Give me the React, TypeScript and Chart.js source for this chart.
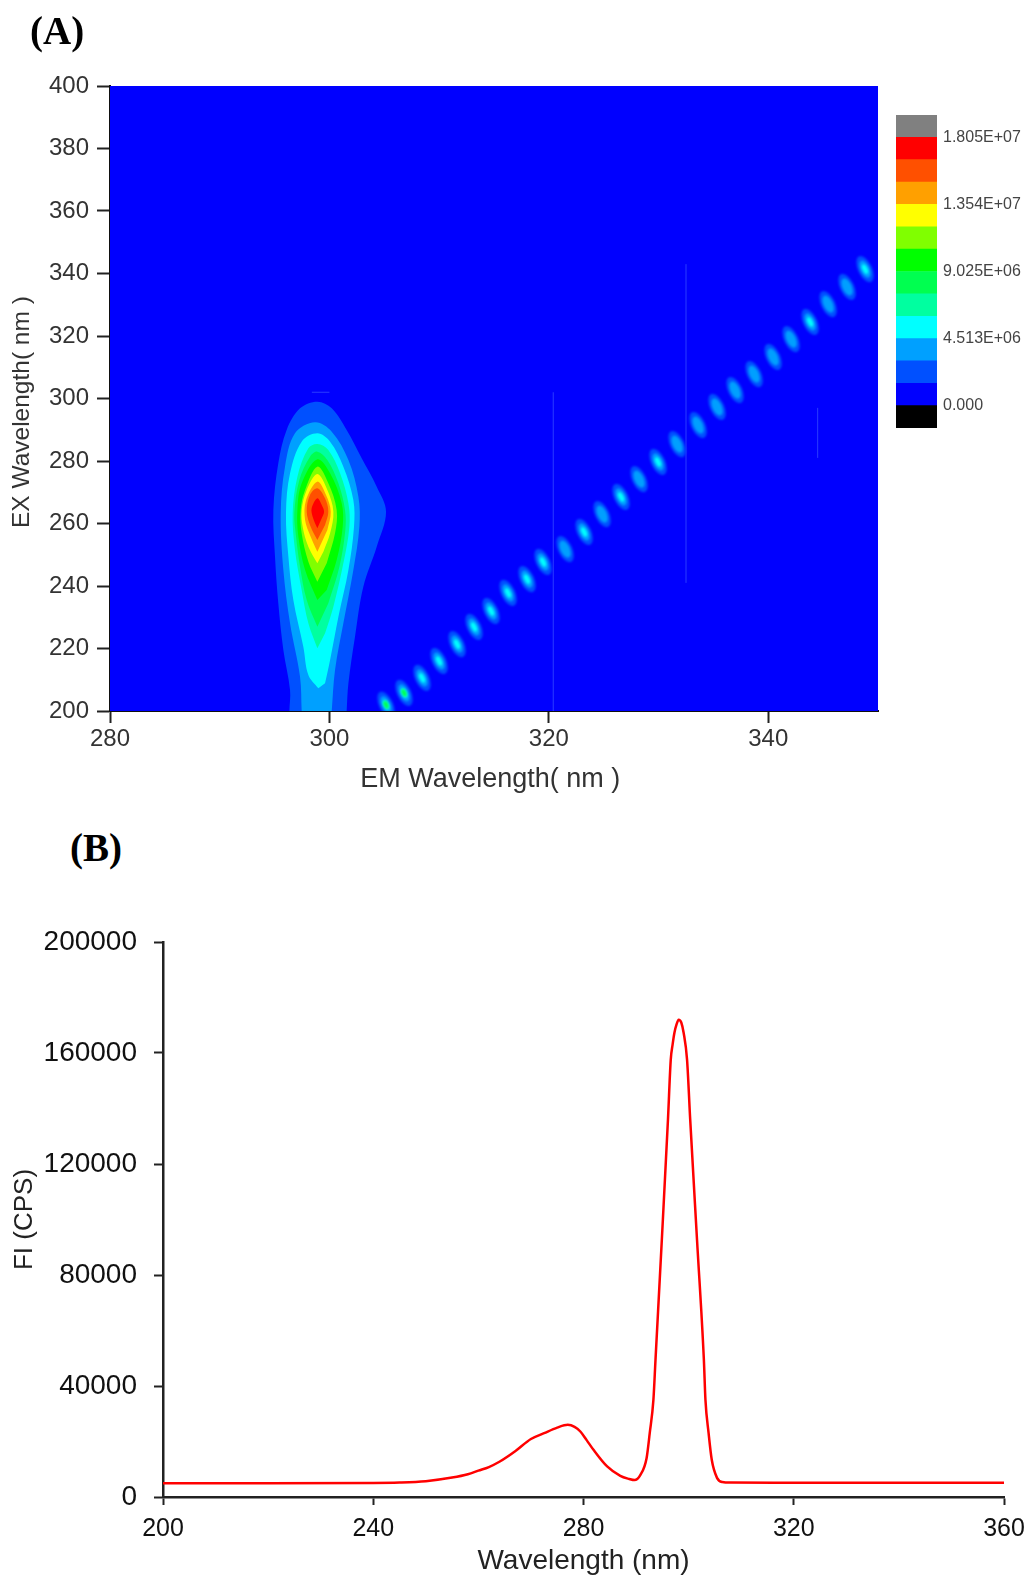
import React, { useEffect, useRef } from "react";
import { Chart, registerables } from "chart.js";

Chart.register(...registerables);

const FONT = "'Liberation Sans', Arial, sans-serif";

const levelColors = ["#0050ff", "#00a0ff", "#00ffff", "#00ffa0", "#00ff50", "#00ff00", "#80ff00", "#ffff00", "#ffa000", "#ff5000", "#ff0000"];

type P = [number, number];
const contour1: P[] = [[296.35,200],[296.41,206.7],[295.8,219.5],[295.34,234.45],[295.04,249.39],[294.89,264.32],[295.34,279.25],[296.1,289.92],[297.32,296.85],[298.9,298.99],[300.21,296.85],[301.57,289.92],[302.94,280.85],[304.31,271.79],[305.16,263.79],[304.31,252.59],[303.09,239.79],[302.33,223.79],[301.73,208.85],[301.57,200]];
const contour2: P[] = [[297.47,200],[297.32,210.98],[296.41,228.05],[295.8,245.12],[295.56,263.25],[295.95,278.19],[296.86,288.85],[298.69,292.37],[300.21,289.39],[301.73,280.32],[302.64,268.59],[302.73,258.99],[302.18,245.12],[301.27,228.05],[300.51,213.12],[300.21,200]];
const contour3: P[] = [[298.99,207.25],[298.08,211.52],[297.62,220.58],[296.71,235.52],[296.26,249.39],[296.04,263.25],[296.41,276.05],[297.47,286.19],[298.9,288.85],[300.06,286.19],[301.27,278.19],[302.18,267.52],[302.24,258.99],[301.73,245.12],[300.82,230.19],[300.06,216.32],[299.6,208.85]];
const contour4: P[] = [[298.9,220.05],[298.08,228.05],[297.47,238.72],[296.86,251.52],[296.65,263.25],[297.08,274.99],[298.08,284.05],[298.9,285.44],[299.9,283.52],[300.97,276.05],[301.73,266.45],[301.82,258.99],[301.27,247.25],[300.36,233.39],[299.6,224.85]];
const contour5: P[] = [[298.9,226.99],[297.93,235.52],[297.32,246.19],[296.96,255.79],[296.8,263.25],[297.26,273.92],[298.23,281.39],[298.9,282.99],[299.81,280.32],[300.82,272.85],[301.42,264.32],[301.45,257.92],[300.91,246.19],[299.9,234.45]];
const contour6: P[] = [[298.9,235.52],[297.78,245.12],[297.17,255.79],[297.08,264.32],[297.47,272.85],[298.9,280.53],[300.06,276.05],[301.12,266.45],[301.21,258.99],[300.66,248.32],[299.75,238.72]];
const contour7: P[] = [[298.9,241.39],[298.08,247.79],[297.47,256.85],[297.38,264.32],[297.78,270.72],[298.9,278.19],[299.9,272.85],[300.66,264.32],[300.51,256.85],[299.75,247.25]];
const contour8: P[] = [[298.9,247.25],[298.08,252.59],[297.56,258.99],[297.47,264.32],[297.93,270.72],[298.9,275.84],[299.81,270.72],[300.36,263.79],[300.06,256.85],[299.45,250.99]];
const contour9: P[] = [[298.9,250.99],[298.29,255.79],[297.78,261.12],[297.87,267.52],[298.9,273.39],[299.69,269.12],[300.12,263.79],[299.81,257.92]];
const contour10: P[] = [[298.9,254.72],[298.29,258.99],[297.93,263.79],[298.23,269.12],[298.9,271.25],[299.6,268.05],[299.9,263.79],[299.6,259.52]];
const contour11: P[] = [[298.9,258.45],[298.47,262.19],[298.38,264.85],[298.9,268.05],[299.3,265.92],[299.51,263.79],[299.3,261.65]];
const contours = [contour1, contour2, contour3, contour4, contour5, contour6, contour7, contour8, contour9, contour10, contour11];

const scatterEm = [348.82,347.18,345.45,343.81,342.08,340.44,338.71,336.97,335.33,333.6,331.69,329.95,328.22,326.58,324.85,323.21,321.48,319.47,318.01,316.28,314.73,313.18,311.63,309.99,308.44,306.8,305.16];
const scatterEx = [341.4,335.7,330.2,324.5,319,313.3,307.8,302.7,297.3,291.5,285.4,279.7,274.2,268.5,263,257.3,251.8,247.7,242.2,237.8,232,226.9,221.4,216,210.6,205.8,202];
const scatterPeak = [3,2,2,3,2,2,2,2,2,2,2,3,2,3,2,3,2,3,3,3,3,3,3,3,3,5,5];

const streaks: P[][] = [
  [[320.4,200],[320.4,302]],
  [[332.5,241],[332.5,343]],
  [[344.5,281],[344.5,297]],
  [[298.4,302],[300,302]],
];

const barColors = ["#000000","#0000ff","#0050ff","#00a0ff","#00ffff","#00ffa0","#00ff50","#00ff00","#80ff00","#ffff00","#ffa000","#ff5000","#ff0000","#808080"];
const barEdges = [-1504000,0,1504000,3008000,4513000,6017000,7521000,9025000,10529000,12033000,13540000,15044000,16548000,18050000,19554000];
const barTicks = [0,4513000,9025000,13540000,18050000];
const barLabels = ["0.000","4.513E+06","9.025E+06","1.354E+07","1.805E+07"];

const spectrumX = [200,220,240,245,250,255,258,260,262,264,267,270,272.5,275,277,278.3,279.4,280.6,281.9,284.5,287,288.7,289.7,290.8,292,292.6,293.3,293.7,294.9,296.07,296.6,296.95,297.3,297.7,298.1,298.6,299.05,299.7,300.3,301.6,302.9,303.2,303.8,304.4,305.4,306.4,308,320,360];
const spectrumY = [5000,5000,5050,5200,5700,7000,8200,9500,10800,12700,16500,20900,23000,25000,26000,25300,23600,20500,17000,11000,7600,6500,6100,7900,14000,23000,35000,49500,92600,136000,157600,163000,167300,170300,172000,171000,167300,157600,136000,92600,49500,35000,23000,13400,6900,5400,5200,5150,5100];

function makeSprite(peak: number): HTMLCanvasElement {
  const c = document.createElement("canvas");
  c.width = 40; c.height = 40;
  const g = c.getContext("2d") as CanvasRenderingContext2D;
  g.translate(20, 20);
  g.rotate(-0.44);
  g.filter = "blur(1px)";
  const scales = [1, 0.66, 0.36, 0.3, 0.26, 0.2];
  for (let i = 0; i < peak; i++) {
    g.fillStyle = levelColors[i];
    g.beginPath();
    g.ellipse(0, 0, 7 * scales[i], 14 * scales[i], 0, 0, Math.PI * 2);
    g.fill();
  }
  return c;
}

const toXY = (p: P) => ({ x: p[0], y: p[1] });

const fixedWidth = (w: number) => (s: any) => { s.width = w; };
const fixedHeight = (h: number) => (s: any) => { s.height = h; };

export default function App() {
  const aRef = useRef<HTMLCanvasElement>(null);
  const barRef = useRef<HTMLCanvasElement>(null);
  const bRef = useRef<HTMLCanvasElement>(null);

  useEffect(() => {
    const sprites: Record<number, HTMLCanvasElement> = { 2: makeSprite(2), 3: makeSprite(3), 5: makeSprite(5) };
    const background = {
      id: "blueField",
      beforeDatasetsDraw(chart: any) {
        const { left, top, width, height } = chart.chartArea;
        chart.ctx.save();
        chart.ctx.fillStyle = "#0000ff";
        chart.ctx.fillRect(left, top, width, height);
        chart.ctx.restore();
      },
    };
    const tickA = { color: "#333333", font: { family: FONT, size: 24 } };
    const chartA = new Chart(aRef.current as HTMLCanvasElement, {
      type: "scatter",
      plugins: [background],
      data: {
        datasets: [
          ...contours.map((c, i) => ({
            data: c.map(toXY),
            showLine: true,
            fill: "shape",
            tension: 0.35,
            backgroundColor: levelColors[i],
            borderColor: levelColors[i],
            borderWidth: 0,
            pointRadius: 0,
            order: 100 - i,
          })),
          ...streaks.map((s) => ({
            data: s.map(toXY),
            showLine: true,
            fill: false,
            borderColor: "#2a3cff",
            borderWidth: 1,
            pointRadius: 0,
            order: 50,
          })),
          {
            data: scatterEm.map((x, i) => ({ x, y: scatterEx[i] })),
            showLine: false,
            pointStyle: (ctx: any) => sprites[scatterPeak[ctx.dataIndex]] ?? sprites[2],
            pointRadius: 20,
            order: 10,
          },
        ],
      },
      options: {
        animation: false,
        responsive: false,
        layout: { padding: { top: 86, right: 149, left: 0, bottom: 0 } },
        plugins: { legend: { display: false }, tooltip: { enabled: false } },
        scales: {
          x: {
            type: "linear", min: 280, max: 350, afterFit: fixedHeight(89),
            border: { color: "#111", width: 2 },
            grid: { display: true, drawOnChartArea: false, tickLength: 12, tickWidth: 2, tickColor: "#222" },
            ticks: { ...tickA, stepSize: 20, padding: 2, maxRotation: 0, autoSkip: false,
              callback: (v: any) => (v === 350 ? "" : String(v)) },
            afterBuildTicks: (s: any) => { s.ticks = [280, 300, 320, 340].map((value) => ({ value })); },
            title: { display: true, text: "EM Wavelength( nm ) ", color: "#333", font: { family: FONT, size: 27 }, padding: { top: 0, bottom: 4 } },
          },
          x2: {
            type: "linear", axis: "x", position: "bottom", min: 280, max: 350, afterFit: fixedHeight(0),
            border: { display: false },
            grid: { display: true, drawOnChartArea: false, tickLength: 7, tickWidth: 2, tickColor: "#222" },
            ticks: { display: false },
            afterBuildTicks: (s: any) => { s.ticks = [290, 310, 330, 350].map((value) => ({ value })); },
          },
          y: {
            type: "linear", position: "left", min: 200, max: 400, afterFit: fixedWidth(110),
            border: { color: "#111", width: 2 },
            grid: { display: true, drawOnChartArea: false, tickLength: 13, tickWidth: 2, tickColor: "#222" },
            ticks: { ...tickA, stepSize: 20, padding: 8 },
            title: { display: true, text: "EX Wavelength( nm )    ", color: "#333", font: { family: FONT, size: 24.5 }, padding: { top: 8, bottom: 0 } },
          },
          y2: {
            type: "linear", axis: "y", position: "left", min: 200, max: 400, afterFit: fixedWidth(0),
            border: { display: false },
            grid: { display: true, drawOnChartArea: false, tickLength: 7, tickWidth: 2, tickColor: "#222" },
            ticks: { display: false },
            afterBuildTicks: (s: any) => { s.ticks = [210,230,250,270,290,310,330,350,370,390].map((value) => ({ value })); },
          },
        },
      },
    } as any);

    const chartBar = new Chart(barRef.current as HTMLCanvasElement, {
      type: "bar",
      data: {
        labels: ["scale"],
        datasets: barColors.map((c, i) => ({
          data: [[barEdges[i], barEdges[i + 1]]],
          backgroundColor: c,
          borderWidth: 0,
          barPercentage: 1,
          categoryPercentage: 1,
          grouped: false,
        })),
      },
      options: {
        animation: false,
        responsive: false,
        layout: { padding: { top: 15, bottom: 12, left: 6, right: 0 } },
        plugins: { legend: { display: false }, tooltip: { enabled: false } },
        scales: {
          x: { display: false },
          y: {
            position: "right", min: -1504000, max: 19554000,
            afterFit: (s: any) => { s.width = 90; s.paddingTop = 0; s.paddingBottom = 0; },
            border: { display: false },
            grid: { display: false, drawTicks: false },
            afterBuildTicks: (s: any) => { s.ticks = barTicks.map((value) => ({ value })); },
            ticks: { color: "#444", font: { family: FONT, size: 16 }, padding: 6,
              callback: (v: any) => barLabels[barTicks.indexOf(v)] ?? "" },
          },
        },
      },
    } as any);

    const chartB = new Chart(bRef.current as HTMLCanvasElement, {
      type: "scatter",
      data: {
        datasets: [{
          data: spectrumX.map((x, i) => ({ x, y: spectrumY[i] })),
          showLine: true,
          borderColor: "#ff0000",
          borderWidth: 2.5,
          cubicInterpolationMode: "monotone",
          pointRadius: 0,
        }],
      },
      options: {
        animation: false,
        responsive: false,
        layout: { padding: { top: 42, right: 23, left: 0, bottom: 0 } },
        plugins: { legend: { display: false }, tooltip: { enabled: false } },
        scales: {
          x: {
            type: "linear", min: 200, max: 360,
            afterFit: (s: any) => { s.height = 81; s.paddingLeft = 0; s.paddingRight = 0; },
            border: { color: "#222", width: 2.5 },
            grid: { display: true, drawOnChartArea: false, tickLength: 8, tickWidth: 2, tickColor: "#222" },
            ticks: { color: "#111", font: { family: FONT, size: 25 }, stepSize: 40, padding: 9, maxRotation: 0 },
            title: { display: true, text: "Wavelength (nm)", color: "#222", font: { family: FONT, size: 28 }, padding: { top: 0, bottom: 0 } },
          },
          y: {
            type: "linear", min: 0, max: 200000, afterFit: fixedWidth(163),
            border: { color: "#222", width: 2.5 },
            grid: { display: true, drawOnChartArea: false, tickLength: 9, tickWidth: 2, tickColor: "#222" },
            ticks: { color: "#111", font: { family: FONT, size: 28 }, stepSize: 40000, padding: 17,
              callback: (v: any) => String(v) },
            title: { display: true, text: "FI (CPS)", color: "#222", font: { family: FONT, size: 26 }, padding: { top: 9, bottom: 0 } },
          },
        },
      },
    } as any);

    return () => { chartA.destroy(); chartBar.destroy(); chartB.destroy(); };
  }, []);

  const abs = (left: number, top: number): React.CSSProperties => ({ position: "absolute", left, top });
  const panelLabel: React.CSSProperties = { position: "absolute", fontFamily: "'Liberation Serif', serif", fontWeight: 700, fontSize: 39, lineHeight: "44px", color: "#000" };

  return (
    <div style={{ position: "absolute", left: 0, top: 0, width: 1027, height: 1578, background: "#fff", overflow: "hidden" }}>
      <canvas ref={aRef} width={1027} height={800} style={abs(0, 0)} />
      <canvas ref={barRef} width={137} height={340} style={abs(890, 100)} />
      <canvas ref={bRef} width={1027} height={678} style={abs(0, 900)} />
      <div style={{ ...panelLabel, left: 30, top: 9 }}>(A)</div>
      <div style={{ ...panelLabel, left: 70, top: 826 }}>(B)</div>
    </div>
  );
}
